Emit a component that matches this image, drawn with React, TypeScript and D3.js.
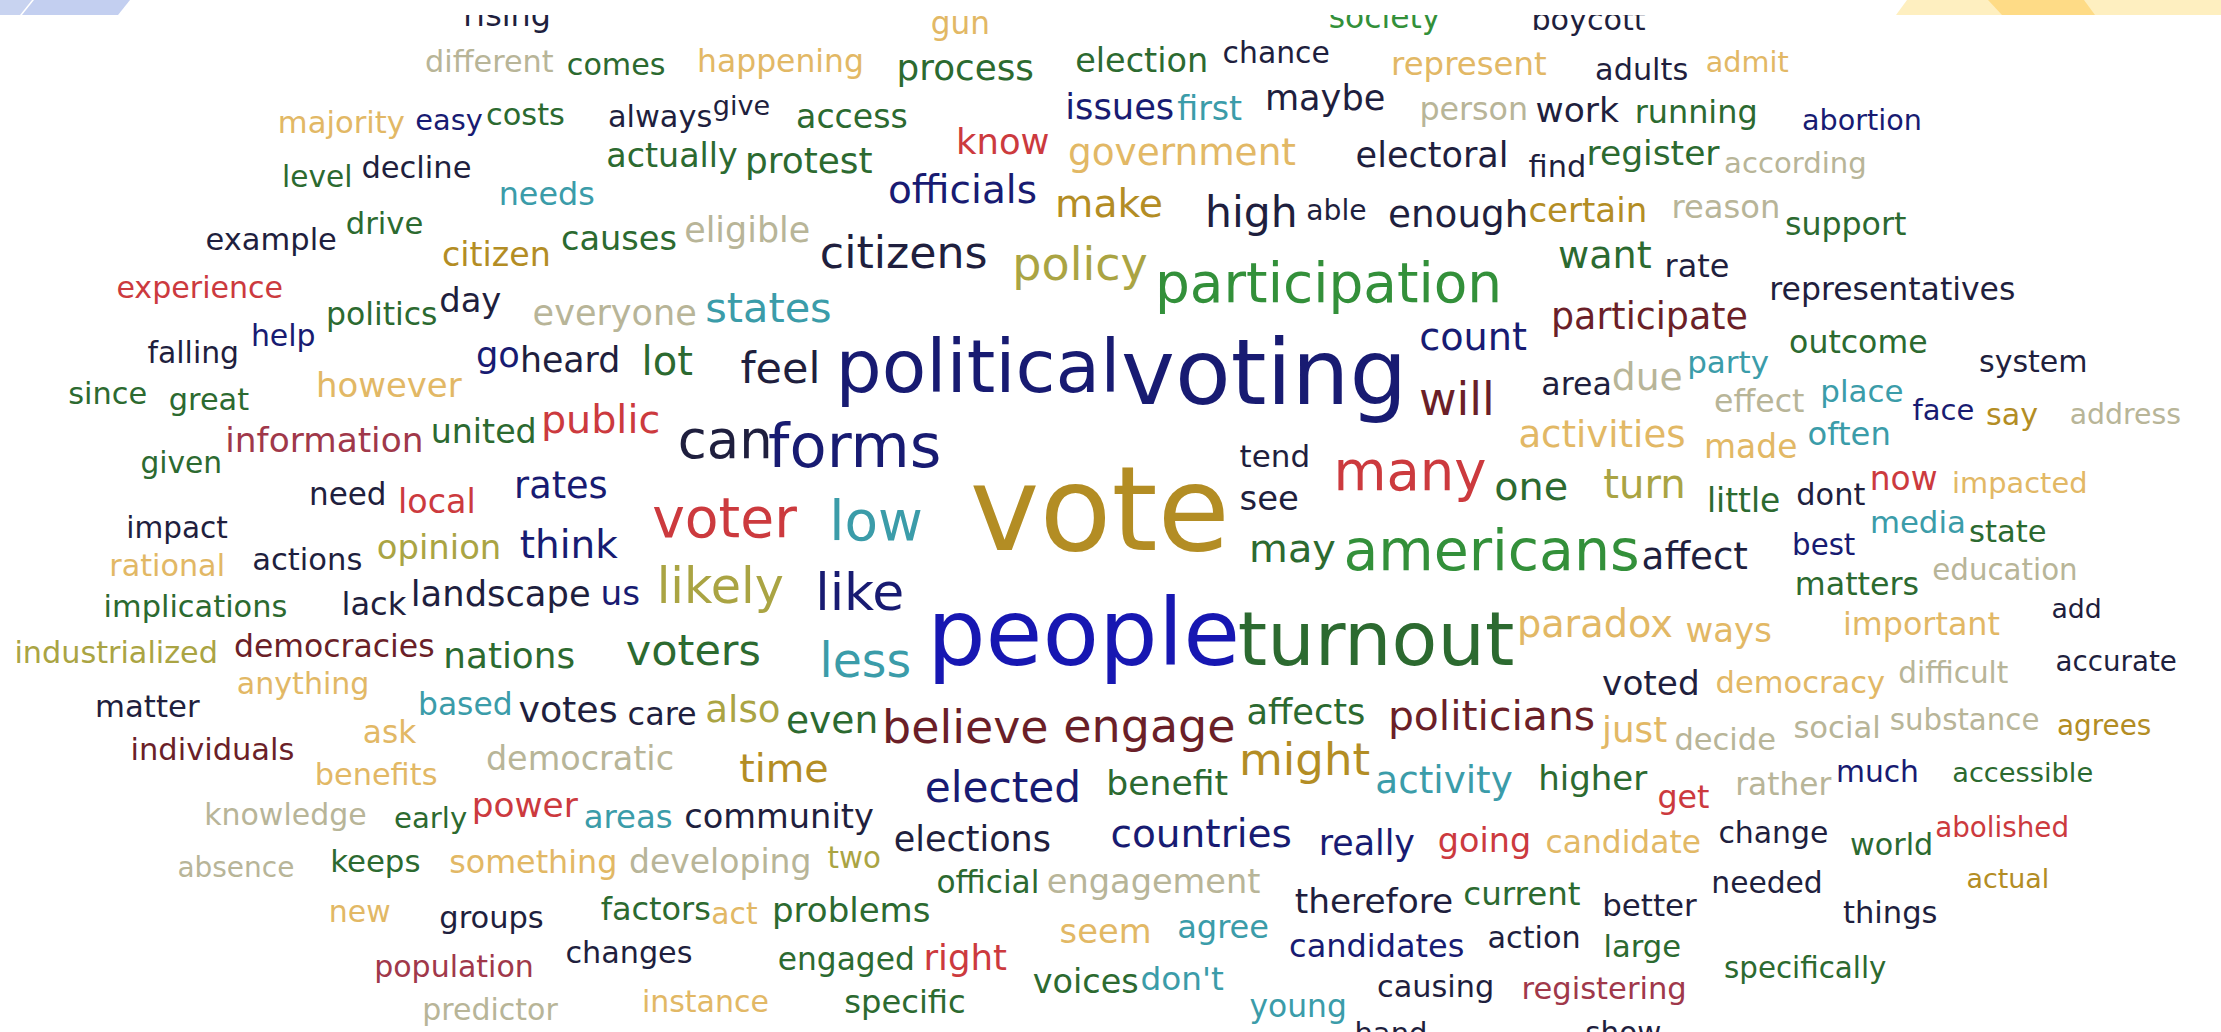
import React, { useEffect, useRef } from "react";
import * as d3 from "d3";

// word, left, right, baseline (layout units of a 1568-wide cloud), colour group
type Word = [string, number, number, number, string];

const tones = ["ink", "navy", "blue", "forest", "green", "gold", "olive", "amber", "khaki", "red", "brick", "maroon", "teal"];
const toneColors = ["#1f1f3e", "#181b72", "#1717b2", "#2c6a30", "#33903a", "#b38d24", "#aaa443", "#e2b865", "#b8b598", "#cc3a3e", "#a0384a", "#6b1f28", "#3b9ca9"];

const rowTop: Word[] = [
  ["rising", 328, 388, 18, "ink"], ["gun", 658, 698, 24, "amber"], ["society", 939, 1016, 20, "green"], ["boycott", 1082, 1161, 21, "ink"],
  ["different", 301, 390, 50.6, "khaki"], ["comes", 401, 469, 53, "forest"], ["happening", 493, 609, 50.6, "amber"], ["process", 634, 729, 56.5, "forest"],
  ["election", 760, 852, 50.6, "forest"], ["chance", 864, 938, 44.7, "ink"], ["represent", 983, 1091, 53, "amber"], ["adults", 1127, 1191, 56.5, "ink"],
  ["admit", 1205, 1262, 50.7, "amber"],
  ["majority", 197, 285, 94, "amber"], ["easy", 294, 340, 92, "navy"], ["costs", 344, 398, 88, "forest"], ["always", 430, 502, 89.5, "ink"],
  ["give", 504, 543, 81, "ink"], ["access", 563, 640, 90.6, "forest"], ["issues", 753, 828, 84, "navy"], ["first", 832, 876, 85, "teal"],
  ["maybe", 894, 977, 78, "ink"], ["person", 1003, 1078, 85, "khaki"], ["work", 1085, 1142, 86, "ink"], ["running", 1155, 1240, 87, "forest"],
  ["abortion", 1273, 1356, 92, "navy"],
];

const rowUpper: Word[] = [
  ["level", 200, 248, 132, "forest"], ["decline", 256, 332, 126, "ink"], ["actually", 429, 520, 118, "forest"], ["protest", 527, 615, 122, "forest"],
  ["know", 676, 740, 109, "red"], ["government", 755, 914, 116.5, "amber"], ["electoral", 958, 1064, 118, "ink"], ["find", 1080, 1119, 125, "ink"],
  ["register", 1121, 1213, 116.5, "forest"], ["according", 1218, 1317, 122, "khaki"],
  ["needs", 353, 419, 145, "teal"], ["officials", 628, 731, 143.6, "navy"], ["make", 746, 820, 153, "gold"], ["high", 852, 915, 160, "ink"],
  ["able", 923, 964, 155, "ink"], ["enough", 981, 1078, 160, "ink"], ["certain", 1080, 1162, 157, "gold"], ["reason", 1181, 1256, 154, "khaki"],
  ["support", 1261, 1345, 166, "forest"],
  ["example", 146, 237, 176.5, "ink"], ["drive", 245, 298, 165, "forest"], ["citizen", 313, 388, 188, "gold"], ["causes", 397, 477, 176.5, "forest"],
  ["eligible", 484, 571, 171, "khaki"], ["citizens", 580, 696, 189.5, "ink"], ["policy", 716, 809, 198, "olive"], ["participation", 817, 1059, 213, "green"],
  ["want", 1101, 1165, 189.5, "forest"], ["rate", 1176, 1220, 195.5, "ink"], ["representatives", 1250, 1422, 212, "ink"],
  ["experience", 83, 199, 210.6, "red"], ["politics", 231, 308, 229.5, "forest"], ["day", 311, 353, 220, "ink"], ["everyone", 377, 491, 229.5, "khaki"],
  ["states", 499, 586, 227, "teal"], ["participate", 1096, 1233, 232, "maroon"],
];

const rowMiddle: Word[] = [
  ["falling", 105, 168, 256, "ink"], ["help", 178, 222, 244, "navy"], ["go", 337, 366, 259, "navy"], ["heard", 368, 437, 262.5, "ink"],
  ["lot", 454, 488, 265, "forest"], ["feel", 524, 578, 270.7, "ink"], ["political", 592, 789, 277, "navy"], ["voting", 794, 991, 285, "navy"],
  ["count", 1003, 1077, 247, "navy"], ["will", 1003, 1054, 293, "maroon"], ["area", 1089, 1137, 279, "ink"], ["due", 1139, 1187, 275, "khaki"],
  ["party", 1192, 1248, 263.6, "teal"], ["outcome", 1264, 1360, 249, "forest"], ["system", 1398, 1473, 262.6, "ink"],
  ["since", 49, 103, 285, "forest"], ["great", 120, 175, 289.5, "forest"], ["however", 224, 325, 280, "amber"], ["effect", 1211, 1273, 290.6, "khaki"],
  ["place", 1286, 1343, 283.6, "teal"], ["face", 1351, 1393, 296.6, "navy"], ["say", 1403, 1438, 300, "gold"], ["address", 1462, 1539, 299, "khaki"],
  ["information", 160, 298, 319, "brick"], ["united", 305, 378, 313, "forest"], ["public", 383, 465, 306, "red"], ["can", 480, 544, 323.6, "ink"],
  ["forms", 544, 663, 329.6, "navy"], ["tend", 876, 924, 329.6, "ink"], ["activities", 1073, 1189, 315.5, "amber"], ["made", 1204, 1268, 323.6, "amber"],
  ["often", 1277, 1334, 314, "teal"],
  ["given", 100, 156, 334, "forest"], ["need", 219, 272, 356.5, "ink"], ["local", 282, 335, 362, "red"], ["rates", 364, 428, 351.6, "navy"],
  ["vote", 688, 865, 388, "gold"], ["many", 943, 1048, 346, "red"], ["see", 876, 916, 360, "ink"], ["one", 1056, 1106, 353, "forest"],
  ["turn", 1133, 1189, 351.6, "olive"], ["little", 1206, 1256, 361.3, "forest"], ["dont", 1269, 1316, 356.6, "ink"], ["now", 1321, 1367, 346, "red"],
  ["impacted", 1379, 1473, 348, "amber"],
  ["impact", 90, 160, 380, "ink"], ["voter", 462, 561, 379, "red"], ["low", 587, 650, 381, "teal"], ["media", 1321, 1387, 376.5, "teal"],
  ["state", 1391, 1444, 382.6, "forest"],
  ["rational", 78, 158, 407, "amber"], ["actions", 179, 255, 402.5, "ink"], ["opinion", 267, 353, 395, "olive"], ["think", 368, 435, 394, "navy"],
  ["may", 883, 942, 396.6, "forest"], ["americans", 950, 1156, 402.5, "green"], ["affect", 1160, 1233, 402, "ink"], ["best", 1266, 1309, 392, "navy"],
  ["education", 1365, 1466, 409.5, "khaki"],
];

const rowLower: Word[] = [
  ["implications", 74, 202, 435.6, "forest"], ["lack", 242, 286, 434, "ink"], ["landscape", 291, 416, 428, "ink"], ["us", 425, 451, 427, "navy"],
  ["likely", 465, 552, 426, "olive"], ["like", 577, 637, 430.6, "navy"], ["matters", 1268, 1354, 420, "forest"], ["add", 1449, 1483, 436.6, "ink"],
  ["industrialized", 11, 153, 468, "olive"], ["democracies", 166, 306, 463.6, "maroon"], ["nations", 314, 405, 471.5, "forest"], ["voters", 443, 536, 469.5, "forest"],
  ["less", 580, 642, 478, "teal"], ["people", 657, 873, 469.5, "blue"], ["turnout", 876, 1067, 469.5, "forest"], ["paradox", 1072, 1180, 449.5, "amber"],
  ["ways", 1191, 1250, 453, "amber"], ["important", 1302, 1411, 448, "amber"], ["accurate", 1452, 1536, 474, "ink"],
  ["anything", 168, 260, 490, "amber"], ["matter", 68, 140, 506, "ink"], ["based", 296, 361, 505, "teal"], ["votes", 367, 435, 509.6, "ink"],
  ["care", 444, 491, 512, "ink"], ["also", 499, 550, 509.6, "olive"], ["even", 556, 619, 517.7, "forest"], ["believe", 624, 739, 524.8, "maroon"],
  ["engage", 752, 871, 524, "maroon"], ["affects", 881, 963, 510.8, "forest"], ["politicians", 981, 1125, 515.5, "maroon"], ["voted", 1132, 1199, 490.7, "ink"],
  ["democracy", 1212, 1330, 489, "amber"], ["difficult", 1341, 1417, 482, "khaki"],
  ["ask", 257, 293, 524.8, "amber"], ["individuals", 93, 207, 536.6, "maroon"], ["democratic", 344, 475, 543.6, "khaki"], ["just", 1132, 1176, 524, "amber"],
  ["decide", 1183, 1253, 529.6, "khaki"], ["social", 1267, 1327, 521, "khaki"], ["substance", 1335, 1439, 515.5, "khaki"], ["agrees", 1453, 1518, 519, "gold"],
  ["benefits", 223, 308, 554, "amber"], ["time", 523, 584, 552, "gold"], ["elected", 654, 762, 566, "navy"], ["benefit", 782, 866, 561, "forest"],
  ["might", 876, 966, 547, "gold"], ["activity", 972, 1067, 560, "teal"], ["higher", 1087, 1162, 558, "forest"], ["rather", 1226, 1292, 561, "khaki"],
  ["much", 1297, 1354, 552, "navy"], ["accessible", 1379, 1477, 552, "forest"], ["get", 1171, 1206, 570.6, "red"],
];

const rowBottom: Word[] = [
  ["knowledge", 145, 258, 582.6, "khaki"], ["early", 279, 329, 584.6, "forest"], ["power", 334, 407, 577, "red"], ["areas", 413, 474, 584.6, "teal"],
  ["community", 484, 616, 584.6, "ink"], ["elections", 632, 741, 601, "ink"], ["countries", 785, 911, 598, "navy"], ["really", 932, 998, 603.6, "navy"],
  ["going", 1016, 1080, 601.6, "red"], ["candidate", 1092, 1200, 602, "amber"], ["change", 1214, 1290, 595, "ink"], ["world", 1307, 1364, 603.6, "forest"],
  ["abolished", 1367, 1460, 590.7, "red"],
  ["absence", 126, 207, 619, "khaki"], ["keeps", 234, 296, 615.6, "forest"], ["something", 318, 435, 616, "amber"], ["developing", 445, 572, 616, "khaki"],
  ["two", 585, 621, 613, "olive"], ["official", 662, 733, 630.6, "forest"], ["engagement", 740, 889, 630.6, "khaki"], ["therefore", 915, 1025, 644.7, "ink"],
  ["current", 1034, 1115, 639, "forest"], ["better", 1132, 1197, 647, "ink"], ["needed", 1209, 1286, 630.6, "ink"], ["actual", 1389, 1446, 627, "gold"],
  ["new", 233, 275, 651, "amber"], ["groups", 311, 383, 655, "ink"], ["factors", 425, 501, 649.5, "forest"], ["act", 503, 534, 652, "amber"],
  ["problems", 546, 656, 650.7, "forest"], ["seem", 749, 812, 666, "amber"], ["agree", 832, 895, 662, "teal"], ["candidates", 911, 1033, 675.6, "navy"],
  ["action", 1051, 1115, 669, "ink"], ["large", 1133, 1186, 675.6, "forest"], ["things", 1302, 1367, 651.7, "ink"],
  ["population", 265, 376, 689.6, "brick"], ["changes", 400, 488, 680, "ink"], ["engaged", 550, 645, 685, "forest"], ["right", 653, 710, 685, "red"],
  ["voices", 730, 803, 701, "forest"], ["don't", 806, 863, 699, "teal"], ["causing", 973, 1054, 704, "ink"], ["registering", 1075, 1190, 705, "brick"],
  ["specifically", 1218, 1331, 690.6, "forest"],
  ["predictor", 299, 393, 720, "khaki"], ["instance", 454, 542, 714.6, "amber"], ["specific", 597, 681, 715, "forest"], ["young", 883, 950, 718, "teal"],
  ["hand", 957, 1007, 736, "ink"], ["show", 1120, 1172, 736, "ink"],
];

const cloudWords: Word[] = [...rowTop, ...rowUpper, ...rowMiddle, ...rowLower, ...rowBottom];

const W = 2221;
const H = 1032;

const App: React.FC = () => {
  const svgRef = useRef<SVGSVGElement>(null);

  useEffect(() => {
    const x = d3.scaleLinear().domain([0, 1568]).range([0, W]);
    const y = d3.scaleLinear().domain([0, 1568 * H / W]).range([0, H]);
    const color = d3.scaleOrdinal<string, string>().domain(tones).range(toneColors);

    const svg = d3.select(svgRef.current);
    svg.selectAll("*").remove();

    svg.append("rect").attr("width", W).attr("height", H).attr("fill", "#fff");

    svg.append("clipPath").attr("id", "cloud-clip")
      .append("rect").attr("x", 0).attr("y", 15).attr("width", W).attr("height", H - 15);

    // header strip remnants at the top corners
    const banner = svg.append("g");
    banner.append("polygon").attr("points", "0,0 32,0 20,15 0,15").attr("fill", "#c8d3f0");
    banner.append("polygon").attr("points", "34,0 130,0 118,15 22,15").attr("fill", "#c3cff0");
    banner.append("polygon").attr("points", "1907,0 2221,0 2221,15 1896,15").attr("fill", "#feefc0");
    banner.append("polygon").attr("points", "1988,0 2084,0 2095,15 2002,15").attr("fill", "#fedb86");

    const g = svg.append("g")
      .attr("clip-path", "url(#cloud-clip)")
      .attr("font-family", "'DejaVu Sans', Verdana, sans-serif");

    g.selectAll("text")
      .data(cloudWords)
      .join("text")
      .attr("y", (d) => y(d[3]))
      .attr("fill", (d) => color(d[4]))
      .attr("font-size", 100)
      .text((d) => d[0])
      .each(function (d) {
        const node = this as SVGTextElement;
        const adv = node.getComputedTextLength() / 100;
        const span = x(d[2]) - x(d[1]);
        const size = span / Math.max(adv - 0.08, 0.2);
        d3.select(node)
          .attr("font-size", size.toFixed(2))
          .attr("x", (x(d[1]) - 0.04 * size).toFixed(1));
      });
  }, []);

  return (
    <svg
      ref={svgRef}
      width={W}
      height={H}
      viewBox={`0 0 ${W} ${H}`}
      style={{ position: "absolute", left: 0, top: 0 }}
    />
  );
};

export default App;
